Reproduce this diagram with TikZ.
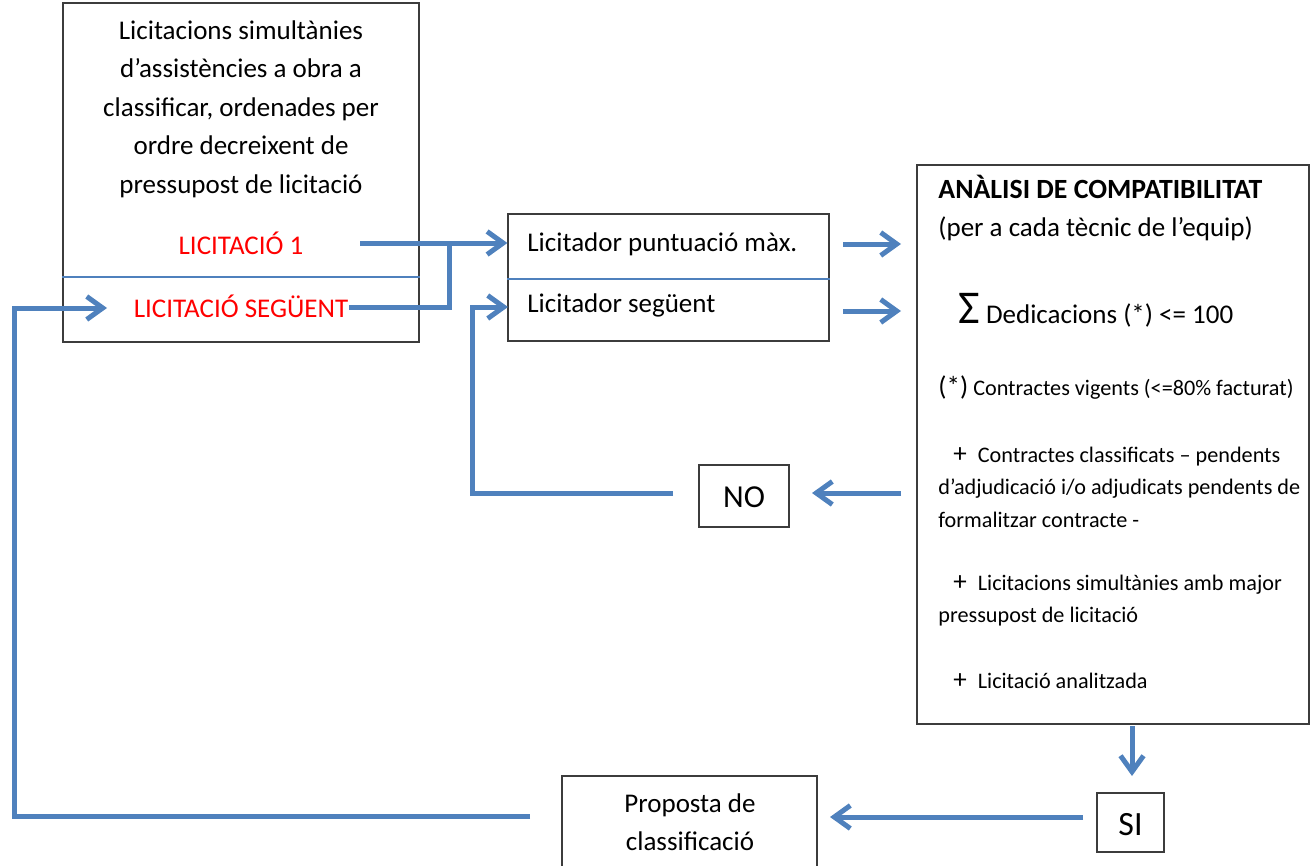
\documentclass[tikz,border=0pt]{standalone}
\usepackage{fontspec}
\setmainfont{Carlito}
\usetikzlibrary{arrows.meta}
\definecolor{lblue}{RGB}{79,129,189}
\definecolor{bord}{RGB}{60,60,60}
\newcommand\tstrut{\rule{0pt}{12pt}}
\begin{document}
\begin{tikzpicture}[x=0.5pt,y=-0.5pt,
  box/.style={draw=bord,line width=0.6pt,inner sep=0pt,rectangle},
  wire/.style={draw=lblue,line width=2.5pt},
  arr/.style={wire,-{Straight Barb[length=8pt,width=11.5pt]}},
  divider/.style={draw=lblue,line width=0.7pt},
  mainf/.style={font=\fontsize{13.5}{19.25}\selectfont},
  smallf/.style={font=\fontsize{11.1}{16.25}\selectfont},
  bigf/.style={font=\fontsize{16}{19}\selectfont},
  txt/.style={inner sep=0pt}]
\useasboundingbox (0,0) rectangle (1310,866);

% boxes
\node[box,minimum width=178pt,minimum height=169.5pt] (left) at (241,172.5) {};
\node[box,minimum width=160.5pt,minimum height=63.5pt] (mid) at (668.5,277.5) {};
\node[box,minimum width=196pt,minimum height=279.5pt] (right) at (1113,444.5) {};
\node[box,minimum width=45pt,minimum height=31pt] (no) at (744,496) {};
\node[box,minimum width=33.5pt,minimum height=29.5pt] (si) at (1130.5,822.5) {};
\node[box,minimum width=127.5pt,minimum height=62pt] (prop) at (689.5,838) {};

% dividers
\coordinate (ldiv) at (0,277);
\coordinate (mdiv) at (0,279);
\draw[divider] (left.west |- ldiv) -- (left.east |- ldiv);
\draw[divider] (mid.west |- mdiv) -- (mid.east |- mdiv);

% left box texts
\node[txt,mainf,align=center,anchor=north] (lefttxt) at (241,15)
  {\tstrut Licitacions simultànies\\d’assistències a obra a\\classificar, ordenades per\\ordre decreixent de\\pressupost de licitació};
\node[txt,mainf,text=red,anchor=base] (lic1) at (241,254) {LICITACIÓ 1};
\node[txt,mainf,text=red,anchor=base] (licn) at (241,317) {LICITACIÓ SEGÜENT};

% middle box texts
\node[txt,mainf,anchor=base west] (lmax) at (527,251) {Licitador puntuació màx.};
\node[txt,mainf,anchor=base west] (lseg) at (527,312) {Licitador següent};

% right box texts
\node[txt,mainf,align=left,anchor=north west] (rtitle) at (938,174)
  {\tstrut{\fontsize{13.9}{19.25}\selectfont\textbf{ANÀLISI DE COMPATIBILITAT}}\\(per a cada tècnic de l’equip)};
\node[txt,mainf,anchor=base west] (rsum) at (958,323)
  {{\fontsize{23.5}{24}\selectfont Σ} Dedicacions (*) <= 100};
\node[txt,smallf,anchor=base west] (rstar) at (938,395)
  {{\fontsize{13.5}{14}\selectfont(*)} Contractes vigents (<=80\% facturat)};
\node[txt,smallf,align=left,anchor=north west] (rp1) at (938,438)
  {\tstrut\hspace*{7.5pt}{\fontsize{13.5}{14}\selectfont +}\hspace*{5.5pt}Contractes classificats – pendents\\d’adjudicació i/o adjudicats pendents de\\formalitzar contracte -};
\node[txt,smallf,align=left,anchor=north west] (rp2) at (938,566)
  {\tstrut\hspace*{7.5pt}{\fontsize{13.5}{14}\selectfont +}\hspace*{5.5pt}Licitacions simultànies amb major\\pressupost de licitació};
\node[txt,smallf,anchor=base west] (rp3) at (938,688)
  {\hspace*{7.5pt}{\fontsize{13.5}{14}\selectfont +}\hspace*{5.5pt}Licitació analitzada};

% small boxes texts
\node[txt,bigf,anchor=base] (notxt) at (744,507) {NO};
\node[txt,font=\fontsize{17}{19}\selectfont,anchor=base] (sitxt) at (1130.5,835) {SI};
\node[txt,mainf,align=center,anchor=north] (proptxt) at (690,788) {\tstrut Proposta de\\classificació};

% connector coordinates
\coordinate (a1s) at (360,243);
\coordinate (j1) at (449,243);
\coordinate (a2s) at (349,307);
\coordinate (a3s) at (673,493);
\coordinate (a3c) at (472,493);
\coordinate (m2in) at (508,307);
\coordinate (a4s) at (901,493);
\coordinate (a4e) at (812,493);
\coordinate (a5s) at (843,244);
\coordinate (a5e) at (901,244);
\coordinate (a6s) at (843,311);
\coordinate (a6e) at (901,311);
\coordinate (dn1) at (1132,726);
\coordinate (dn2) at (1132,776);
\coordinate (a7s) at (1083,817);
\coordinate (a7e) at (830,817);
\coordinate (b1) at (530,816);
\coordinate (b2) at (14,816);
\coordinate (b3) at (107,308);

% connectors
\draw[arr] (a1s) -- (a1s -| mid.west);
\draw[wire] (a2s) -| (j1);
\draw[arr] (a3s) -- (a3c) |- (m2in);
\draw[arr] (a4s) -- (a4e);
\draw[arr] (a5s) -- (a5e);
\draw[arr] (a6s) -- (a6e);
\draw[arr] (dn1) -- (dn2);
\draw[arr] (a7s) -- (a7e);
\draw[arr] (b1) -- (b2) |- (b3);
\end{tikzpicture}
\end{document}
